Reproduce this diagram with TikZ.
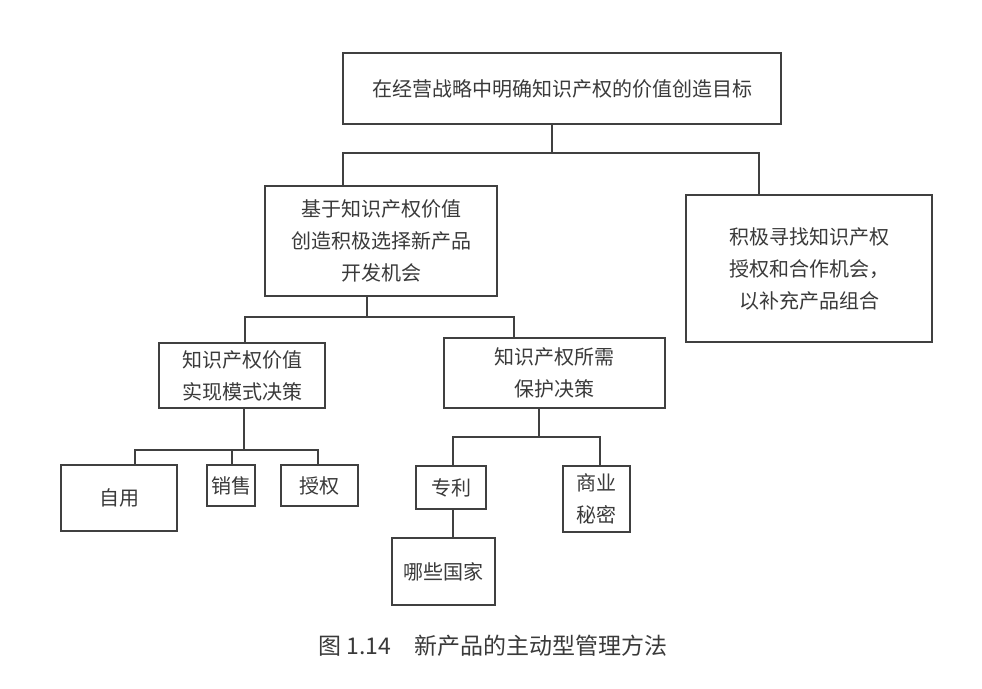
\documentclass[tikz,border=0pt]{standalone}
\usepackage{fontspec}
\newfontfamily\cjk{Noto Sans CJK SC}
\definecolor{ln}{HTML}{404040}
\definecolor{tx}{HTML}{3A3A3A}
\tikzset{
  box/.style={draw=ln, line width=1.5pt, rectangle, inner sep=0pt, align=center,
    text=tx, font=\cjk\fontsize{20}{32}\selectfont},
  link/.style={draw=ln, line width=1.5pt}
}
\begin{document}
\begin{tikzpicture}[x=1pt,y=-1pt]
\useasboundingbox (0,0) rectangle (982,688);
\fill[white] (0,0) rectangle (982,688);
% nodes
\node[box, minimum width=438pt, minimum height=71pt] (top) at (562,88.5) {在经营战略中明确知识产权的价值创造目标};
\node[box, minimum width=232pt, minimum height=110pt] (A) at (381,241) {基于知识产权价值\\创造积极选择新产品\\开发机会};
\node[box, minimum width=246pt, minimum height=147pt] (R) at (809,268.5) {积极寻找知识产权\\授权和合作机会，\\以补充产品组合};
\node[box, minimum width=166pt, minimum height=65pt] (B) at (242,375.5) {知识产权价值\\实现模式决策};
\node[box, minimum width=221pt, minimum height=70pt] (C) at (554.5,373) {知识产权所需\\保护决策};
\node[box, minimum width=116pt, minimum height=66pt] (zy) at (119,498) {自用};
\node[box, minimum width=48pt, minimum height=41pt] (xs) at (231,485.5) {销售};
\node[box, minimum width=77pt, minimum height=41pt] (sq) at (319.5,485.5) {授权};
\node[box, minimum width=70pt, minimum height=43pt] (zl) at (451,487.5) {专利};
\node[box, minimum width=67pt, minimum height=66pt] (sy) at (596.5,499) {商业\\秘密};
\node[box, minimum width=103pt, minimum height=67pt] (gj) at (443.5,571.5) {哪些国家};
\node[text=tx, font=\cjk\fontsize{23}{26}\selectfont, inner sep=0pt] (cap) at (493,646) {图 1.14\hspace{1em}新产品的主动型管理方法};
% junction coordinates
\coordinate (t0) at (552,153);
\coordinate (tL) at (343,153);
\coordinate (tR) at (759,153);
\coordinate (a0) at (367,317);
\coordinate (aL) at (245,317);
\coordinate (aR) at (514,317);
\coordinate (b0) at (244,450);
\coordinate (bL) at (135,450);
\coordinate (bM) at (232,450);
\coordinate (bR) at (318,450);
\coordinate (c0) at (539,437);
\coordinate (cL) at (453,437);
\coordinate (cR) at (600,437);
% connectors
\draw[link] (top.south -| t0) -- (t0);
\draw[link] (A.north -| tL) -- (tL) -- (tR) -- (R.north -| tR);
\draw[link] (A.south -| a0) -- (a0);
\draw[link] (B.north -| aL) -- (aL) -- (aR) -- (C.north -| aR);
\draw[link] (B.south -| b0) -- (b0);
\draw[link] (zy.north -| bL) -- (bL) -- (bR) -- (sq.north -| bR);
\draw[link] (bM) -- (xs.north -| bM);
\draw[link] (C.south -| c0) -- (c0);
\draw[link] (zl.north -| cL) -- (cL) -- (cR) -- (sy.north -| cR);
\draw[link] (zl.south -| cL) -- (gj.north -| cL);
\end{tikzpicture}
\end{document}
